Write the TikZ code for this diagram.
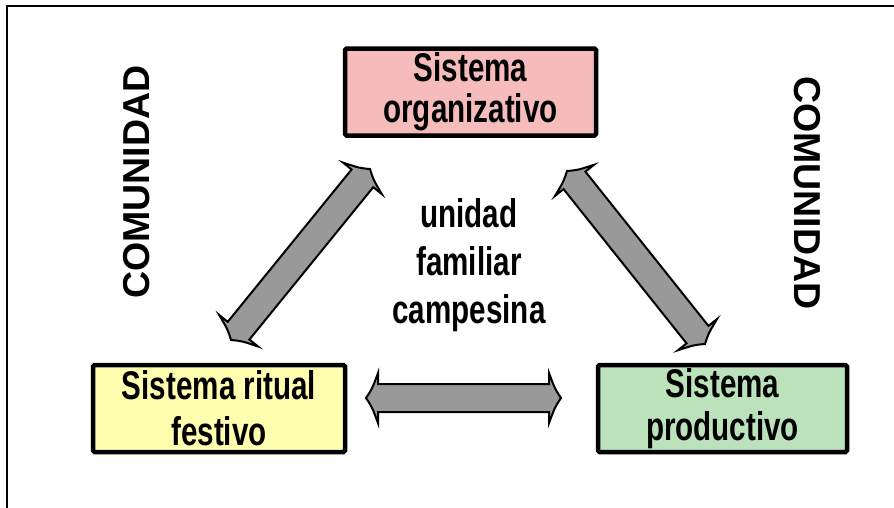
\documentclass[tikz,border=0pt]{standalone}
\usepackage{fontspec}
\setmainfont{Liberation Sans}
\newfontfamily\narrowsans[FakeStretch=0.74]{Liberation Sans}
\usetikzlibrary{calc}
\definecolor{pinkfill}{RGB}{246,188,188}
\definecolor{yelfill}{RGB}{255,255,175}
\definecolor{grnfill}{RGB}{188,226,188}
\definecolor{arrgray}{RGB}{153,153,153}
\tikzset{
  sysbox/.style={draw=black, line width=4.5pt, rounded corners=1.5pt,
    minimum height=87pt, inner sep=0pt, align=center},
  boxtext/.style={font=\narrowsans\bfseries\fontsize{40}{#1}\selectfont},
  comtext/.style={font=\bfseries\fontsize{37.5}{40}\selectfont, inner sep=0pt},
  dblarr/.style={draw=black, line width=2pt, fill=arrgray, line join=miter},
  frameline/.style={draw=black, line width=2pt}
}
\newcommand\dblarrow[2]{%
  \pgfpointdiff{\pgfpointanchor{#1}{center}}{\pgfpointanchor{#2}{center}}%
  \pgfgetlastxy{\ardx}{\ardy}%
  \pgfmathsetmacro\arlen{veclen(\ardx,\ardy)}%
  \pgfmathsetmacro\arang{atan2(\ardy,\ardx)}%
  \begin{scope}[shift={(#1)},rotate=\arang,x=1pt,y=1pt]
    \filldraw[dblarr] (0,0) .. controls (6,9) .. (12,25) -- (12,14)
      -- ({\arlen-12},14) -- ({\arlen-12},25) .. controls ({\arlen-6},9) .. (\arlen,0)
      .. controls ({\arlen-6},-9) .. ({\arlen-12},-25) -- ({\arlen-12},-14)
      -- (12,-14) -- (12,-25) .. controls (6,-9) .. cycle;
  \end{scope}}
\begin{document}
\begin{tikzpicture}[x=1pt,y=-1pt]
  \useasboundingbox (0,0) rectangle (894,507);
  \fill[white] (0,0) rectangle (894,507);
  \draw[frameline] (7,520) -- (7,6) -- (900,6);

  % boxes
  \node[sysbox, boxtext=41, fill=pinkfill, minimum width=251pt] (org) at (470.5,92)
    {Sistema\\organizativo};
  \node[sysbox, boxtext=46, fill=yelfill, minimum width=252pt] (rit) at (219,408.5)
    {Sistema ritual\\festivo};
  \node[sysbox, boxtext=43, fill=grnfill, minimum width=249pt] (prod) at (722.5,408.5)
    {Sistema\\productivo};

  % center text
  \node[align=center, inner sep=0pt, font=\narrowsans\bfseries\fontsize{40}{48}\selectfont]
    (uni) at (469,265.5) {unidad\\familiar\\campesina};

  % COMUNIDAD labels
  \node[comtext, rotate=90] (comL) at (137,182) {COMUNIDAD};
  \node[comtext, rotate=-90] (comR) at (807,193) {COMUNIDAD};

  % arrow end points
  \coordinate (h1) at (366,398);
  \coordinate (h2) at (561,398);
  \coordinate (l1) at (231,340);
  \coordinate (l2) at (370,169);
  \coordinate (r1) at (567,171);
  \coordinate (r2) at (705,344);

  \dblarrow{h1}{h2}
  \dblarrow{l1}{l2}
  \dblarrow{r1}{r2}
\end{tikzpicture}
\end{document}
